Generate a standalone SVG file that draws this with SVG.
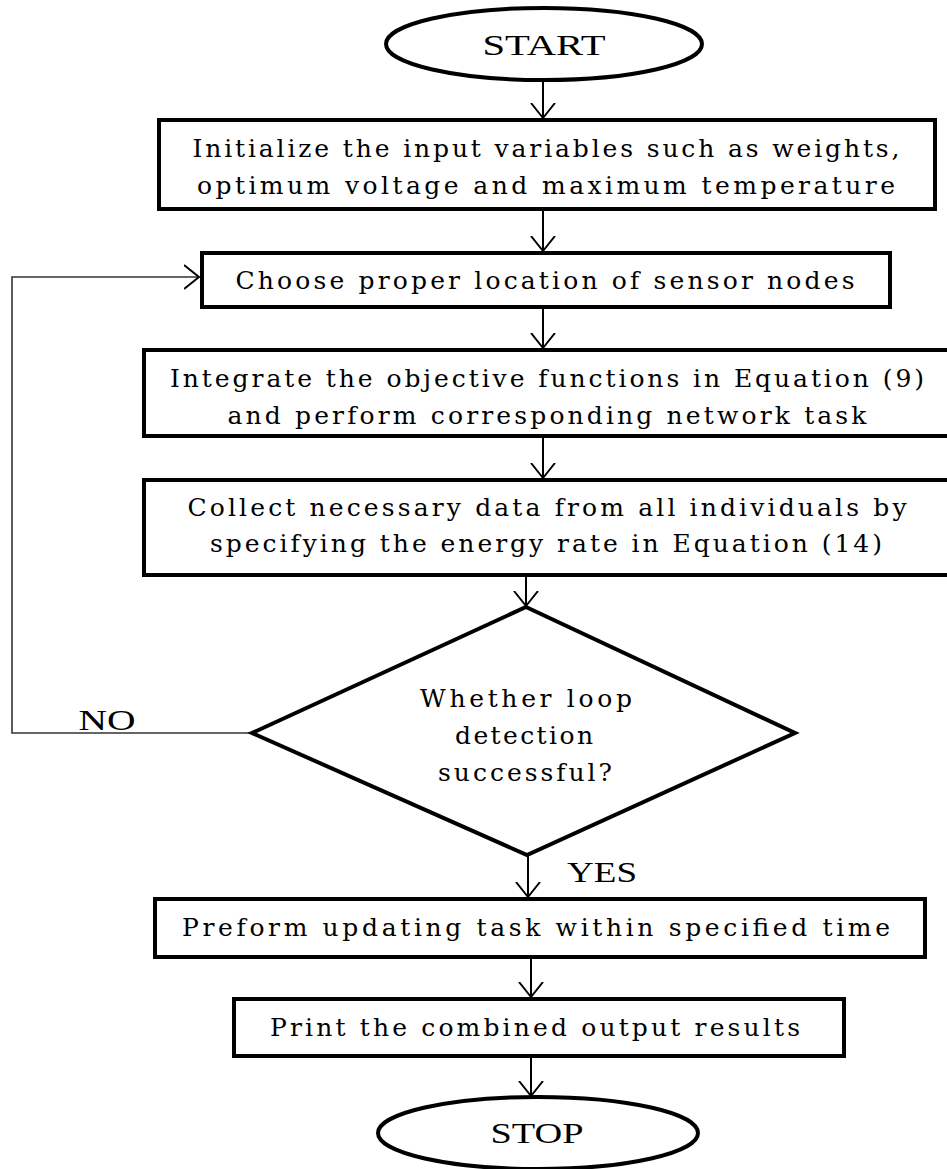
<svg xmlns="http://www.w3.org/2000/svg" width="947" height="1169" viewBox="0 0 947 1169">
<style>
  .shape { fill: #fff; stroke: #000; stroke-width: 4; }
  .conn { fill: none; stroke: #000; stroke-width: 2; }
  .loop { fill: none; stroke: #333; stroke-width: 1.6; }
  text { font-family: "DejaVu Serif", "Liberation Serif", serif; font-size: 25px; fill: #000; text-anchor: middle; }
  .caps { font-family: "Liberation Serif", "DejaVu Serif", serif; font-size: 30px; }
</style>
<defs>
  <marker id="arr" markerUnits="userSpaceOnUse" markerWidth="30" markerHeight="30" refX="15" refY="15" orient="auto" viewBox="0 0 30 30">
    <path d="M0,3 L15,15 L0,27" fill="none" stroke="#000" stroke-width="2"/>
  </marker>
</defs>
<rect width="947" height="1169" fill="#fff"/>
<g id="connectors">
  <line class="conn" x1="543" y1="80" x2="543" y2="118" marker-end="url(#arr)"/>
  <line class="conn" x1="543" y1="211" x2="543" y2="251" marker-end="url(#arr)"/>
  <line class="conn" x1="543" y1="307" x2="543" y2="348" marker-end="url(#arr)"/>
  <line class="conn" x1="543" y1="436" x2="543" y2="478" marker-end="url(#arr)"/>
  <line class="conn" x1="526" y1="576" x2="526" y2="606" marker-end="url(#arr)"/>
  <line class="conn" x1="528" y1="855" x2="528" y2="897" marker-end="url(#arr)"/>
  <line class="conn" x1="531" y1="957" x2="531" y2="997" marker-end="url(#arr)"/>
  <line class="conn" x1="531" y1="1056" x2="531" y2="1096" marker-end="url(#arr)"/>
  <polyline class="loop" points="252,733 12,733 12,277 199,277" marker-end="url(#arr)"/>
  <text class="caps" x="107" y="730" textLength="57" lengthAdjust="spacingAndGlyphs">NO</text>
  <text class="caps" x="602" y="882" textLength="70" lengthAdjust="spacingAndGlyphs">YES</text>
</g>
<g id="start">
  <ellipse class="shape" cx="544" cy="44" rx="158" ry="36"/>
  <text class="caps" x="544" y="55" textLength="123" lengthAdjust="spacingAndGlyphs">START</text>
</g>
<g id="init">
  <rect class="shape" x="159" y="120" width="776" height="89"/>
  <text x="546" y="157" textLength="707" lengthAdjust="spacing">Initialize the input variables such as weights,</text>
  <text x="546" y="194" textLength="698" lengthAdjust="spacing">optimum voltage and maximum temperature</text>
</g>
<g id="choose">
  <rect class="shape" x="202" y="253" width="688" height="54"/>
  <text x="545" y="289" textLength="619" lengthAdjust="spacing">Choose proper location of sensor nodes</text>
</g>
<g id="integrate">
  <rect class="shape" x="144" y="350" width="820" height="86"/>
  <text x="547" y="387" textLength="754" lengthAdjust="spacing">Integrate the objective functions in Equation (9)</text>
  <text x="547" y="424" textLength="639" lengthAdjust="spacing">and perform corresponding network task</text>
</g>
<g id="collect">
  <rect class="shape" x="144" y="480" width="820" height="95"/>
  <text x="547" y="516" textLength="719" lengthAdjust="spacing">Collect necessary data from all individuals by</text>
  <text x="546" y="552" textLength="672" lengthAdjust="spacing">specifying the energy rate in Equation (14)</text>
</g>
<g id="decision">
  <polygon class="shape" points="526,607 795,733 527,855 252,733"/>
  <text x="526" y="707" textLength="212" lengthAdjust="spacing">Whether loop</text>
  <text x="524" y="744" textLength="138" lengthAdjust="spacing">detection</text>
  <text x="525" y="781" textLength="174" lengthAdjust="spacing">successful?</text>
</g>
<g id="update">
  <rect class="shape" x="155" y="899" width="770" height="58"/>
  <text x="536" y="936" textLength="708" lengthAdjust="spacing">Preform updating task within specified time</text>
</g>
<g id="print">
  <rect class="shape" x="234" y="999" width="610" height="57"/>
  <text x="535" y="1036" textLength="530" lengthAdjust="spacing">Print the combined output results</text>
</g>
<g id="stop">
  <ellipse class="shape" cx="538" cy="1133" rx="160" ry="36"/>
  <text class="caps" x="537" y="1143" textLength="93" lengthAdjust="spacingAndGlyphs">STOP</text>
</g>
</svg>
